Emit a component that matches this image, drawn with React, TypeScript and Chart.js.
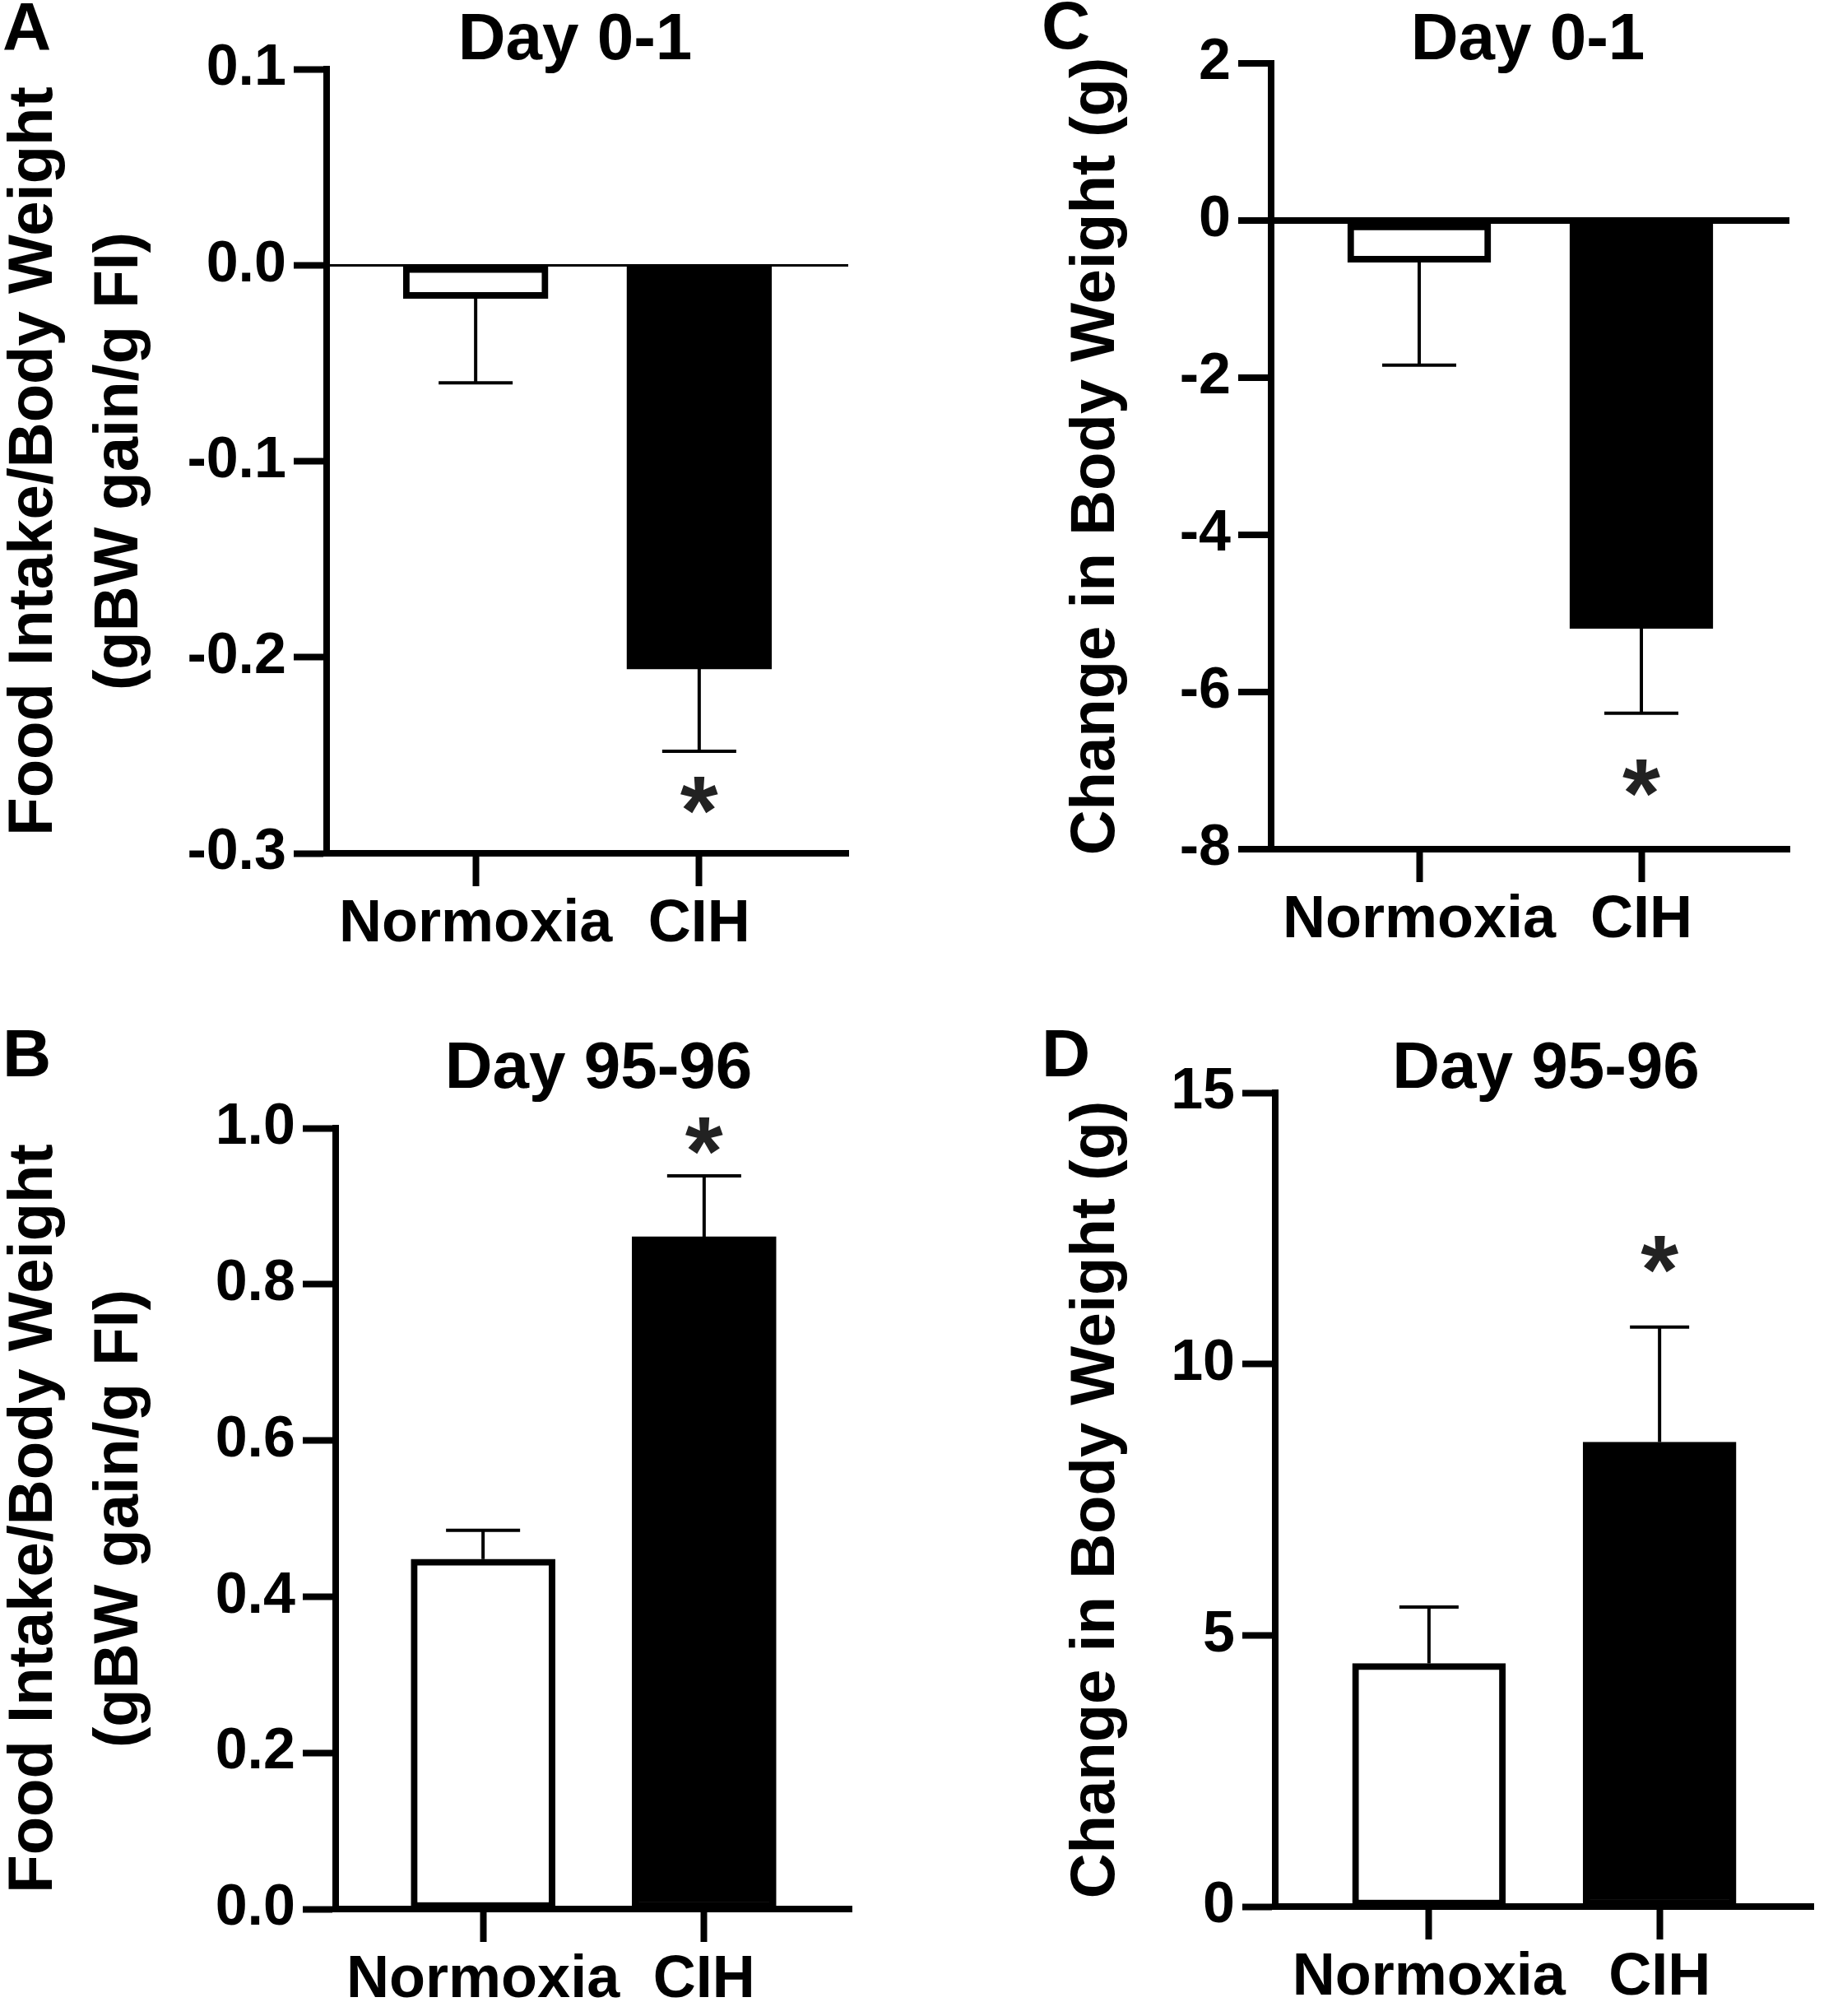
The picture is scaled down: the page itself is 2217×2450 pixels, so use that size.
import { useEffect, useRef } from "react";
import { Chart, registerables } from "chart.js";

Chart.register(...registerables);

// ---------------- data ----------------
const categories = ["Normoxia", "CIH"];
const significant = [false, true];

const panelLetters = ["A", "B", "C", "D"];
const panelTitles = ["Day 0-1", "Day 95-96", "Day 0-1", "Day 95-96"];

const foodIntakeAxisTitle = ["Food Intake/Body Weight", "(gBW gain/g FI)"];
const weightChangeAxisTitle = "Change in Body Weight (g)";

// A: food intake / body weight, day 0-1
const foodIntakeDay0Mean = [-0.017, -0.206];
const foodIntakeDay0Sem = [0.043, 0.042];
const foodIntakeDay0Ticks = [-0.3, -0.2, -0.1, 0.0, 0.1];

// B: food intake / body weight, day 95-96
const foodIntakeDay95Mean = [0.448, 0.861];
const foodIntakeDay95Sem = [0.037, 0.078];
const foodIntakeDay95Ticks = [0.0, 0.2, 0.4, 0.6, 0.8, 1.0];

// C: change in body weight, day 0-1
const weightChangeDay0Mean = [-0.53, -5.19];
const weightChangeDay0Sem = [1.31, 1.08];
const weightChangeDay0Ticks = [-8, -6, -4, -2, 0, 2];

// D: change in body weight, day 95-96
const weightChangeDay95Mean = [4.48, 8.56];
const weightChangeDay95Sem = [1.04, 2.12];
const weightChangeDay95Ticks = [0, 5, 10, 15];

// ---------------- styling / layout ----------------
const FONT = "'Liberation Sans', Arial, Helvetica, sans-serif";
Chart.defaults.font.family = FONT;
Chart.defaults.color = "#000";

const panels = [
  {
    letter: panelLetters[0], title: panelTitles[0],
    mean: foodIntakeDay0Mean, sem: foodIntakeDay0Sem, ticks: foodIntakeDay0Ticks, decimals: 1,
    yTitle: foodIntakeAxisTitle,
    canvas: { left: -10, top: 0, width: 1120, height: 1190 },
    padding: { left: 0, top: 84, right: 79, bottom: 3 },
    yAxisWidth: 407, xAxisHeight: 150,
    barWidth: 176, capWidth: 90, zeroLine: 3, starOffset: 53,
    titleDx: -15, titleY: 72, letterX: 13, letterY: 60,
  },
  {
    letter: panelLetters[1], title: panelTitles[1],
    mean: foodIntakeDay95Mean, sem: foodIntakeDay95Sem, ticks: foodIntakeDay95Ticks, decimals: 1,
    yTitle: foodIntakeAxisTitle,
    canvas: { left: -10, top: 1190, width: 1120, height: 1260 },
    padding: { left: 0, top: 181, right: 75, bottom: 5 },
    yAxisWidth: 418, xAxisHeight: 125,
    barWidth: 175, capWidth: 90, zeroLine: 0, starOffset: 48,
    titleDx: 6, titleY: 132, letterX: 13, letterY: 118,
  },
  {
    letter: panelLetters[2], title: panelTitles[2],
    mean: weightChangeDay0Mean, sem: weightChangeDay0Sem, ticks: weightChangeDay0Ticks, decimals: 0,
    yTitle: weightChangeAxisTitle,
    canvas: { left: 1240, top: 0, width: 977, height: 1190 },
    padding: { left: 41, top: 77, right: 42, bottom: 8 },
    yAxisWidth: 264, xAxisHeight: 150,
    barWidth: 174, capWidth: 90, zeroLine: 8, starOffset: 79,
    titleDx: -3, titleY: 72, letterX: 26, letterY: 59,
  },
  {
    letter: panelLetters[3], title: panelTitles[3],
    mean: weightChangeDay95Mean, sem: weightChangeDay95Sem, ticks: weightChangeDay95Ticks, decimals: 0,
    yTitle: weightChangeAxisTitle,
    canvas: { left: 1240, top: 1190, width: 977, height: 1260 },
    padding: { left: 41, top: 138, right: 13, bottom: 8 },
    yAxisWidth: 269, xAxisHeight: 125,
    barWidth: 186, capWidth: 72, zeroLine: 0, starOffset: 88,
    titleDx: 2, titleY: 132, letterX: 26, letterY: 118,
  },
];

const decorPlugin = {
  id: "panelDecor",
  afterDraw(chart: any, _args: any, opts: any) {
    const { ctx, chartArea } = chart;
    const x = chart.scales.x;
    const y = chart.scales.y;
    ctx.save();
    // error bars + significance
    opts.mean.forEach((m: number, i: number) => {
      const px = x.getPixelForValue(i);
      const dir = m < 0 ? -1 : 1;
      const y0 = y.getPixelForValue(m);
      const y1 = y.getPixelForValue(m + dir * opts.sem[i]);
      ctx.strokeStyle = "#000";
      ctx.lineWidth = 4;
      ctx.lineCap = "butt";
      ctx.beginPath();
      ctx.moveTo(px, y0);
      ctx.lineTo(px, y1);
      ctx.moveTo(px - opts.capWidth / 2, y1);
      ctx.lineTo(px + opts.capWidth / 2, y1);
      ctx.stroke();
      if (opts.sig[i]) {
        ctx.font = `bold 118px ${FONT}`;
        ctx.fillStyle = "#222";
        ctx.textAlign = "left";
        ctx.textBaseline = "alphabetic";
        const mt = ctx.measureText("*");
        const w = mt.actualBoundingBoxLeft + mt.actualBoundingBoxRight;
        const h = mt.actualBoundingBoxAscent + mt.actualBoundingBoxDescent;
        const cy = y1 - dir * opts.starOffset;
        const tx = px - w / 2 + mt.actualBoundingBoxLeft;
        const ty = cy - h / 2 + mt.actualBoundingBoxAscent;
        ctx.fillText("*", tx, ty);
      }
    });
    // title
    ctx.fillStyle = "#000";
    ctx.font = `bold 80px ${FONT}`;
    ctx.textAlign = "center";
    ctx.textBaseline = "alphabetic";
    ctx.fillText(opts.title, (chartArea.left + chartArea.right) / 2 + opts.titleDx, opts.titleY);
    // panel letter
    ctx.font = `bold 82px ${FONT}`;
    ctx.textAlign = "left";
    ctx.fillText(opts.letter, opts.letterX, opts.letterY);
    ctx.restore();
  },
};

function Panel({ p }: { p: any }) {
  const ref = useRef<HTMLCanvasElement | null>(null);
  useEffect(() => {
    if (!ref.current) return;
    const chart = new Chart(ref.current, {
      type: "bar",
      data: {
        datasets: [
          {
            data: p.mean.map((v: number, i: number) => ({ x: i, y: v })),
            backgroundColor: ["#ffffff", "#000000"],
            borderColor: "#000000",
            borderWidth: 8,
            borderSkipped: false,
            barThickness: p.barWidth,
          } as any,
        ],
      },
      options: {
        responsive: false,
        animation: false,
        devicePixelRatio: 1,
        layout: { padding: p.padding },
        plugins: {
          legend: { display: false },
          tooltip: { enabled: false },
          title: { display: false },
          panelDecor: {
            mean: p.mean, sem: p.sem, sig: significant, capWidth: p.capWidth,
            starOffset: p.starOffset, title: p.title, titleDx: p.titleDx, titleY: p.titleY,
            letter: p.letter, letterX: p.letterX, letterY: p.letterY,
          },
        } as any,
        scales: {
          x: {
            type: "linear",
            min: -2 / 3,
            max: 5 / 3,
            offset: false,
            afterBuildTicks: (scale: any) => {
              scale.ticks = categories.map((_, i) => ({ value: i }));
            },
            afterFit: (scale: any) => {
              scale.height = p.xAxisHeight;
            },
            ticks: {
              autoSkip: false,
              maxRotation: 0,
              padding: 4,
              color: "#000",
              font: { size: 72, weight: "bold" },
              callback: (v: any) => categories[Number(v)] ?? "",
            },
            grid: {
              offset: false,
              drawOnChartArea: false,
              tickLength: 40,
              tickWidth: 8,
              tickColor: "#000",
            },
            border: { display: true, color: "#000", width: 8 },
          },
          y: {
            type: "linear",
            min: p.ticks[0],
            max: p.ticks[p.ticks.length - 1],
            afterBuildTicks: (scale: any) => {
              scale.ticks = p.ticks.map((v: number) => ({ value: v }));
            },
            afterFit: (scale: any) => {
              scale.width = p.yAxisWidth;
            },
            ticks: {
              padding: 9,
              color: "#000",
              font: { size: 70, weight: "bold" },
              callback: (v: any) => Number(v).toFixed(p.decimals),
            },
            grid: {
              offset: false,
              drawOnChartArea: p.zeroLine > 0,
              color: (c: any) => (c.tick && c.tick.value === 0 ? "#000" : "rgba(0,0,0,0)"),
              lineWidth: p.zeroLine > 0 ? p.zeroLine : 1,
              tickLength: 40,
              tickWidth: 8,
              tickColor: "#000",
            },
            border: { display: true, color: "#000", width: 8 },
            title: {
              display: true,
              text: p.yTitle,
              color: "#000",
              padding: 0,
              font: { size: 76, weight: "bold", lineHeight: 104 / 76 },
            },
          },
        },
      } as any,
      plugins: [decorPlugin as any],
    });
    return () => chart.destroy();
  }, [p]);
  return (
    <canvas
      ref={ref}
      width={p.canvas.width}
      height={p.canvas.height}
      style={{
        position: "absolute",
        left: p.canvas.left,
        top: p.canvas.top,
        width: p.canvas.width,
        height: p.canvas.height,
      }}
    />
  );
}

export default function App() {
  useEffect(() => {
    document.body.style.margin = "0";
    document.body.style.background = "#fff";
  }, []);
  return (
    <div
      style={{
        position: "relative",
        width: 2217,
        height: 2450,
        overflow: "hidden",
        background: "#fff",
      }}
    >
      {panels.map((p) => (
        <Panel key={p.letter} p={p} />
      ))}
    </div>
  );
}
